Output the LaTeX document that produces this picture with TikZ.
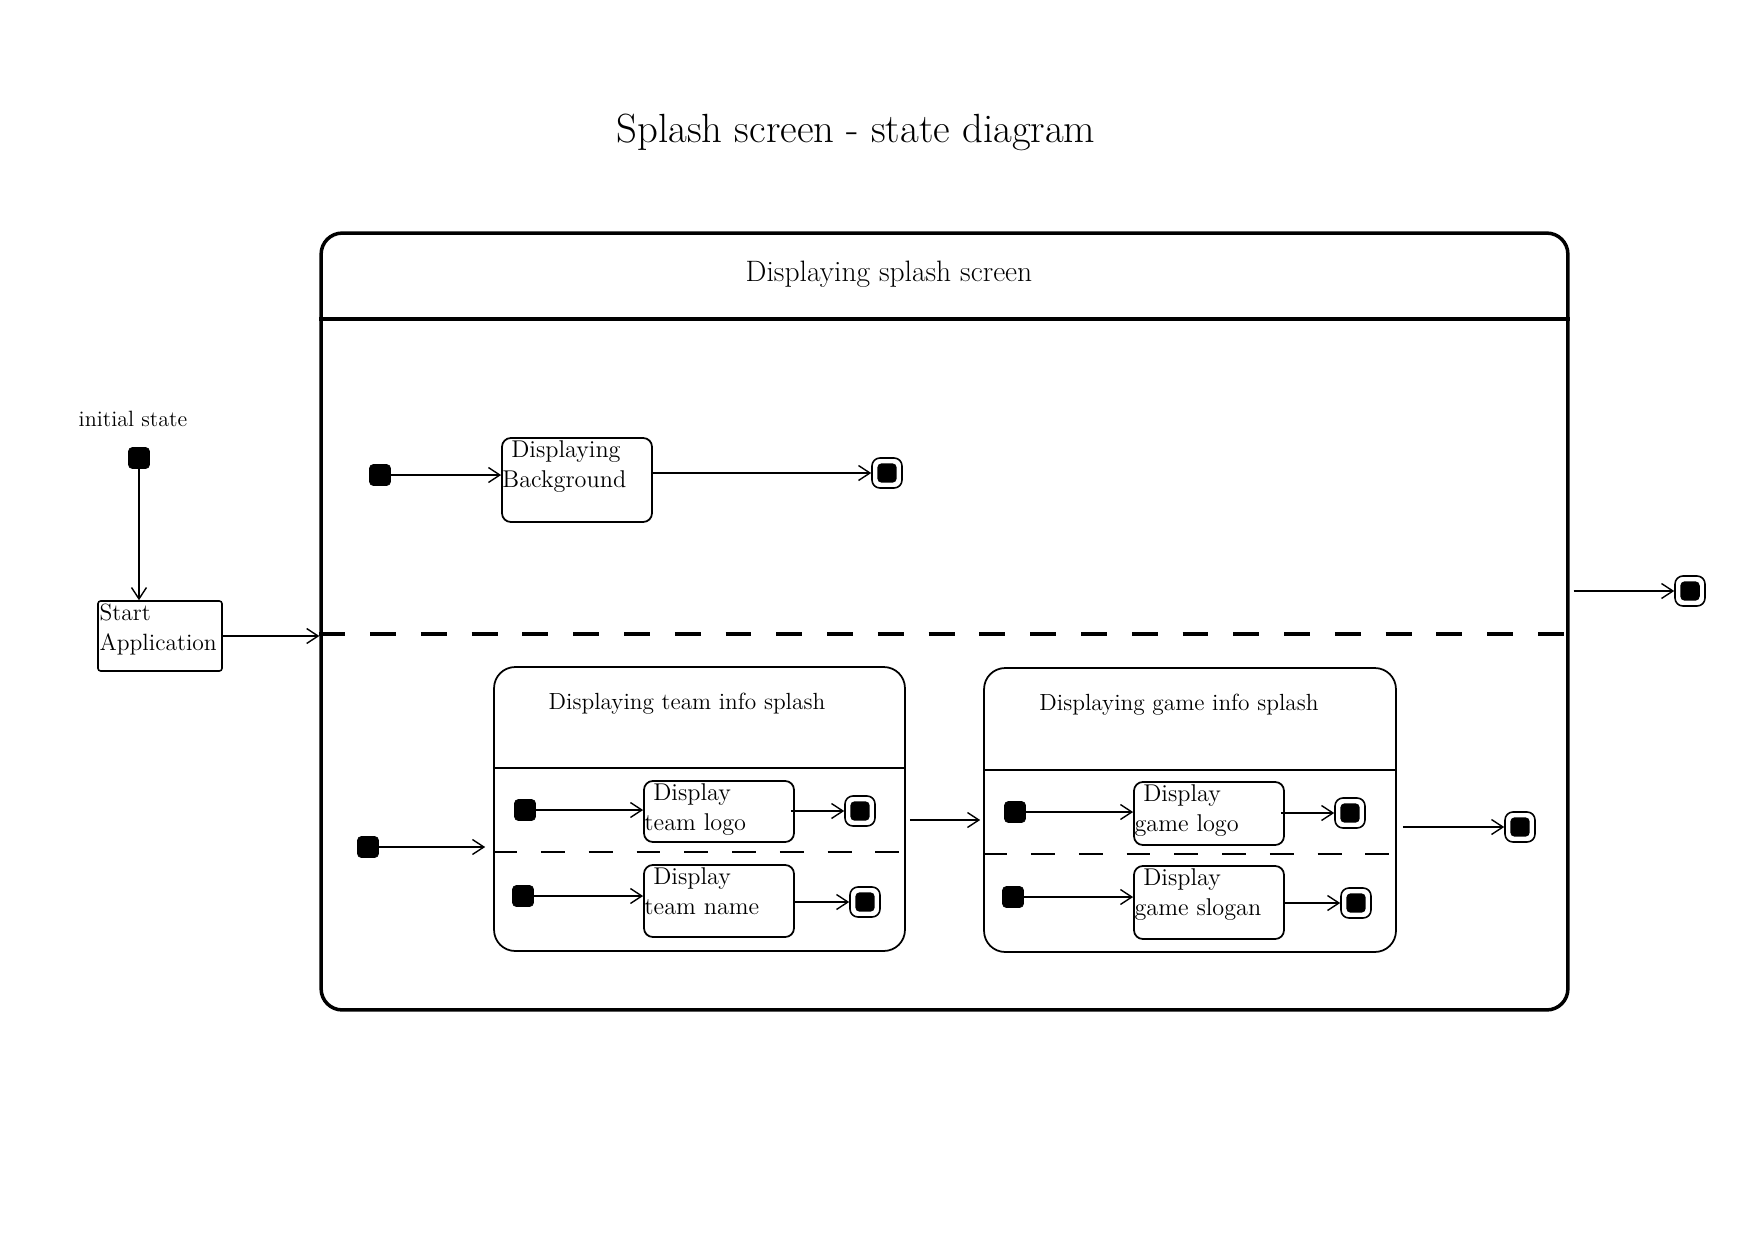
\documentclass[tikz,border=0pt]{standalone}
\usetikzlibrary{arrows.meta,calc}
\begin{document}
\begin{tikzpicture}[x=0.02cm,y=-0.02cm,
  init/.style={fill=black, draw=black, minimum size=0.42cm, inner sep=0pt, rounded corners=2.2pt},
  fin/.style={draw=black, fill=white, line width=0.9pt, minimum size=0.6cm, inner sep=0pt, rounded corners=4.5pt,
    path picture={\fill[black, rounded corners=2.5pt] ([shift={(3pt,3pt)}]path picture bounding box.south west) rectangle ([shift={(-3pt,-3pt)}]path picture bounding box.north east);}},
  sbox/.style={draw=black, line width=1pt, rounded corners=5pt, inner sep=0pt, minimum width=3cm},
  comp/.style={draw=black, line width=1pt, rounded corners=12pt, inner sep=0pt},
  lab/.style={anchor=north west, inner sep=0pt, align=left, font=\fontsize{13.8}{17}\selectfont},
  arr/.style={-{Straight Barb[length=6.5pt,width=8.5pt]}, line width=0.8pt},
  thindash/.style={line width=0.8pt, dash pattern=on 13.6pt off 13.6pt},
  thickdash/.style={line width=1.9pt, dash pattern=on 14.7pt off 14.2pt}
]
\useasboundingbox (0,0) rectangle (1754,1241);

% title
\node[font=\fontsize{23.2}{27}\selectfont] (title) at (856,132) {Splash screen - state diagram};

% outer composite state
\node[draw=black, line width=2pt, rounded corners=12pt, minimum width=24.94cm, minimum height=15.54cm, inner sep=0pt] (outer) at (944.5,621.5) {};
\coordinate (h1) at (0,319);
\coordinate (h2) at (0,634);
\draw[line width=2pt] (outer.west |- h1) -- (outer.east |- h1);
\node[font=\fontsize{16.8}{20}\selectfont] (sst) at (889,274) {Displaying splash screen};
\draw[thickdash] (outer.west |- h2) -- (outer.east |- h2);

% initial state and start application
\node[font=\fontsize{12.6}{15}\selectfont] (initlab) at (133,419) {initial state};
\node[init] (i0) at (139,458) {};
\node[draw=black, line width=0.9pt, rounded corners=1.5pt, minimum width=2.48cm, minimum height=1.4cm, inner sep=0pt] (start) at (160,636) {};
\node[lab, font=\fontsize{13.4}{17}\selectfont] (startlab) at ([shift={(2,3)}]start.north west) {Start\\Application};
\draw[arr] (i0.south) -- (i0.south |- start.north);
\draw[arr] (start.east) -- (start.east -| outer.west);

% upper region
\node[init] (i1) at (380,475) {};
\node[sbox, minimum height=1.68cm] (bg) at (577,480) {};
\node[lab] (bglab) at ([shift={(1,3)}]bg.north west) {\hspace{5pt}Displaying\\Background};
\node[fin] (f1) at (887,473) {};
\draw[arr] (i1.east) -- (i1.east -| bg.west);
\draw[arr] (bg.east |- f1) -- (f1.west);

% exit of outer state
\node[fin] (f2) at (1690,591) {};
\draw[arr] ($(outer.east |- f2)+(4,0)$) -- (f2.west);

% lower region
\node[init] (i2) at (368,847) {};
\node[comp, minimum width=8.22cm, minimum height=5.68cm] (team) at (699.5,809) {};
\draw[arr] (i2.east) -- ($(i2.east -| team.west)+(-8,0)$);
\node[font=\fontsize{13.3}{16}\selectfont] (teamlab) at (687,704) {Displaying team info splash};
\coordinate (h3) at (0,768);
\coordinate (h4) at (0,852);
\draw[line width=1pt] (team.west |- h3) -- (team.east |- h3);
\draw[thindash] (team.west |- h4) -- ($(team.east |- h4)+(3,0)$);

\node[init] (iA) at (525,810) {};
\node[sbox, minimum height=1.22cm] (tl) at (719,811.5) {};
\node[lab] (tllab) at ([shift={(1,3)}]tl.north west) {\hspace{5pt}Display\\team logo};
\node[fin] (fA) at (860,811) {};
\draw[arr] (iA.east) -- (iA.east -| tl.west);
\draw[arr] ($(tl.east |- fA)+(-4,0)$) -- (fA.west);

\node[init] (iB) at (523,896) {};
\node[sbox, minimum height=1.44cm] (tn) at (719,901) {};
\node[lab] (tnlab) at ([shift={(1,3)}]tn.north west) {\hspace{5pt}Display\\team name};
\node[fin] (fB) at (865,902) {};
\draw[arr] (iB.east) -- (iB.east -| tn.west);
\draw[arr] (tn.east |- fB) -- (fB.west);

% game info
\node[comp, minimum width=8.24cm, minimum height=5.68cm] (game) at (1190,810) {};
\draw[arr] ($(team.east)+(4,11)$) -- ($(game.west)+(-3,10)$);
\node[font=\fontsize{13.3}{16}\selectfont] (gamelab) at (1179,705) {Displaying game info splash};
\coordinate (h5) at (0,770);
\coordinate (h6) at (0,854);
\draw[line width=1pt] (game.west |- h5) -- (game.east |- h5);
\draw[thindash] (game.west |- h6) -- ($(game.east |- h6)+(3,0)$);

\node[init] (iC) at (1015,812) {};
\node[sbox, minimum height=1.26cm] (gl) at (1209,813.5) {};
\node[lab] (gllab) at ([shift={(1,3)}]gl.north west) {\hspace{5pt}Display\\game logo};
\node[fin] (fC) at (1350,813) {};
\draw[arr] (iC.east) -- (iC.east -| gl.west);
\draw[arr] ($(gl.east |- fC)+(-4,0)$) -- (fC.west);

\node[init] (iD) at (1013,897) {};
\node[sbox, minimum height=1.46cm] (gs) at (1209,902.5) {};
\node[lab] (gslab) at ([shift={(1,3)}]gs.north west) {\hspace{5pt}Display\\game slogan};
\node[fin] (fD) at (1356,903) {};
\draw[arr] (iD.east) -- (iD.east -| gs.west);
\draw[arr] (gs.east |- fD) -- (fD.west);

\node[fin] (fE) at (1520,827) {};
\draw[arr] ($(game.east |- fE)+(6,0)$) -- (fE.west);
\end{tikzpicture}
\end{document}
